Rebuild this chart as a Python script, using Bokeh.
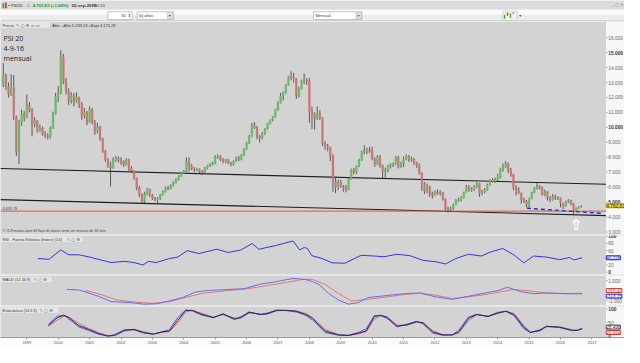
import numpy as np
import pandas as pd
from bokeh.plotting import figure
from bokeh.models import Range1d, Label, BoxAnnotation
from bokeh.layouts import column
from bokeh.embed import file_html
from bokeh.resources import INLINE

# ------------------------------------------------------------------ data
start_month = "1998-04"
open_first = 12850
close_ = [
    13450, 12750, 12200, 12650, 10700, 8350, 10300, 10900, 10650,                    # 1998
    11500, 11150, 10200, 10450, 9800, 9950, 9550, 9450, 9350, 9950, 10900, 12050,     # 1999
    12250, 14700, 13050, 12450, 11750, 12150, 11750, 12000, 11550, 10800, 11000, 10350,  # 2000
    11200, 10350, 9750, 10050, 9250, 8400, 7850, 7450, 7300, 7850, 7950, 7800,       # 2001
    7700, 7500, 7850, 7250, 7100, 6600, 5950, 5500, 5050, 5550, 5850, 5450,           # 2002
    5250, 5150, 5200, 5500, 5700, 5950, 5900, 6100, 6300, 6500, 6720, 6930,           # 2003
    7050, 7700, 7450, 7250, 7150, 7200, 7050, 7000, 7300, 7450, 7550, 7600,           # 2004
    8000, 8050, 7850, 7700, 7850, 7650, 7500, 7750, 8000, 7850, 8150, 8550,           # 2005
    8950, 9400, 10200, 10000, 9400, 9300, 9600, 9900, 10250, 10500, 10700, 11200,     # 2006
    11650, 12100, 12300, 12850, 13400, 13350, 13250, 12150, 12600, 13100, 13150, 13100,  # 2007
    11100, 10950, 10600, 10950, 10650, 8900, 8750, 8650, 8100, 6400, 6000, 6350,      # 2008
    6050, 5900, 5850, 6550, 7150, 7000, 7400, 7800, 8400, 8350, 8500, 8450,           # 2009
    7900, 7550, 8050, 7450, 7100, 7100, 7400, 7500, 7550, 8000, 7350, 7600,           # 2010
    7900, 8050, 7850, 7900, 7650, 7450, 6950, 6250, 5750, 6050, 5550, 5500,           # 2011
    5650, 5600, 5650, 5200, 4550, 4500, 4600, 4850, 5100, 5150, 5300, 5650,           # 2012
    6000, 5800, 5900, 6050, 6250, 5600, 5700, 5800, 6150, 6450, 6400, 6550,           # 2013
    6700, 7250, 7400, 7600, 7100, 6850, 5950, 5850, 5600, 5200, 5050, 4800,           # 2014
    5250, 5650, 5900, 6050, 6000, 5500, 5700, 5300, 5150, 5400, 5250, 5300,           # 2015
    4950, 4750, 5050, 5150, 4900, 4450, 4600, 4680, 4763,                             # 2016
]
high_ = [
    14300, 13600, 13000, 13550, 13500, 10800, 10500, 11200, 11100,
    12200, 11700, 11300, 10700, 10500, 10200, 10050, 9750, 9600, 10050, 11050, 12300,
    12750, 15150, 14900, 13300, 12600, 12350, 12300, 12350, 12050, 11700, 11300, 11100,
    11400, 11300, 10500, 10300, 10100, 9300, 8500, 7950, 7700, 8000, 8100, 8050,
    8000, 7800, 7950, 7900, 7400, 7150, 6650, 6100, 5600, 5700, 5950, 5900,
    5550, 5350, 5350, 5550, 5800, 6050, 6100, 6200, 6400, 6600, 6800, 7000,
    7150, 8000, 8000, 7550, 7350, 7300, 7250, 7150, 7350, 7500, 7600, 7700,
    8150, 8200, 8150, 7950, 7900, 7900, 7700, 7800, 8050, 8100, 8200, 8600,
    9050, 9500, 10300, 10350, 10100, 9500, 9700, 9950, 10300, 10550, 10750, 11250,
    11750, 12300, 12400, 12900, 13450, 13750, 13650, 13300, 12700, 13200, 13600, 13300,
    13300, 11400, 11000, 11400, 11150, 10700, 9100, 8900, 8700, 8200, 6700, 6500,
    6500, 6150, 6150, 6650, 7250, 7300, 7450, 7900, 8450, 8800, 8650, 8700,
    8700, 8000, 8150, 8150, 7500, 7300, 7500, 7600, 7650, 8100, 8100, 7700,
    8050, 8200, 8150, 8050, 7950, 7700, 7600, 7000, 6350, 6250, 6100, 5700,
    5800, 5850, 5800, 5700, 5250, 4700, 4700, 4900, 5200, 5300, 5400, 5700,
    6150, 6150, 6000, 6150, 6350, 6300, 5850, 5950, 6250, 6550, 6600, 6650,
    6900, 7300, 7600, 7750, 7650, 7300, 6900, 6150, 6000, 5650, 5300, 5150,
    5300, 5700, 6000, 6300, 6150, 6050, 5850, 5750, 5400, 5550, 5500, 5400,
    5240, 4950, 5100, 5200, 5150, 4950, 4650, 4750, 4800,
]
low_ = [
    12700, 12500, 12000, 12100, 10500, 8100, 7550, 10100, 10400,
    10600, 11000, 9400, 10000, 9650, 9700, 9450, 9300, 9200, 9250, 9900, 10850,
    11700, 12200, 12900, 12200, 11500, 11600, 11400, 11650, 11300, 10500, 10600, 10150,
    10300, 10200, 9500, 9600, 9100, 8300, 7700, 7300, 6050, 7250, 7700, 7650,
    7500, 7350, 7450, 7100, 6950, 6500, 5800, 5350, 4900, 4950, 5450, 5350,
    5150, 5050, 4950, 5150, 5450, 5650, 5800, 5850, 6050, 6250, 6450, 6700,
    6900, 7000, 7050, 7150, 7000, 7050, 6950, 6800, 6950, 7200, 7350, 7450,
    7550, 7900, 7750, 7600, 7600, 7550, 7400, 7450, 7700, 7750, 7800, 8100,
    8500, 8900, 9350, 9900, 9200, 9000, 9200, 9500, 9850, 10200, 10400, 10650,
    11100, 11600, 11800, 12250, 12800, 13150, 13000, 11900, 12000, 12550, 12900, 12850,
    10300, 9900, 9850, 10500, 10500, 8750, 8500, 8400, 7750, 5700, 5600, 5800,
    5950, 5700, 5650, 5800, 6500, 6850, 6900, 7350, 7750, 8200, 8200, 8300,
    7800, 7350, 7500, 7300, 6600, 6650, 7000, 7250, 7350, 7500, 7250, 7300,
    7350, 7800, 7700, 7700, 7500, 7300, 6850, 5750, 5550, 5600, 5350, 5250,
    5400, 5500, 5450, 5100, 4450, 4300, 4350, 4500, 4800, 5000, 5050, 5250,
    5650, 5700, 5700, 5750, 5950, 5350, 5450, 5600, 5750, 6100, 6300, 6300,
    6350, 6600, 7050, 7300, 6950, 6700, 5800, 5450, 5550, 4900, 4950, 4650,
    4650, 5200, 5600, 5850, 5850, 5450, 5400, 5100, 5000, 5100, 5150, 5150,
    4650, 4550, 4700, 4950, 4800, 4175, 4400, 4550, 4650,
]

rsi_t = [1999.35, 1999.71, 2000.08, 2000.34, 2000.65, 2001.01, 2001.27, 2001.68, 2002.10, 2002.41,
         2002.70, 2002.87, 2003.13, 2003.54, 2003.80, 2004.11, 2004.48, 2005.05, 2005.41, 2005.82,
         2006.18, 2006.39, 2006.96, 2007.17, 2007.48, 2007.69, 2007.84, 2007.94, 2008.08, 2008.41,
         2008.72, 2009.13, 2009.65, 2010.07, 2010.38, 2010.79, 2011.20, 2011.62, 2012.03, 2012.34,
         2012.66, 2013.07, 2013.48, 2013.79, 2014.16, 2014.52, 2014.83, 2015.14, 2015.56, 2015.97,
         2016.28, 2016.43, 2016.69]
rsi_v = [38, 36, 62, 48.5, 48.5, 42, 36, 27, 30, 27,
         20, 30, 27, 38, 42, 60, 52, 64, 55, 62,
         80, 64, 75, 80, 87, 62, 69, 66, 46, 38,
         26, 25, 47, 45, 43, 50, 46, 33, 29, 23,
         38, 50, 45, 57, 66, 48, 26, 45, 42, 35,
         41, 34, 40.226]

macd_t = [2000.28, 2000.65, 2001.27, 2001.68, 2002.30, 2002.72, 2003.13, 2003.54, 2003.96, 2004.37,
          2004.79, 2005.41, 2005.93, 2006.44, 2006.96, 2007.48, 2007.89, 2008.10, 2008.31, 2008.62,
          2008.93, 2009.24, 2009.55, 2009.86, 2010.38, 2011.00, 2011.52, 2012.03, 2012.55, 2013.07,
          2013.59, 2014.00, 2014.31, 2014.72, 2015.14, 2015.55, 2016.17, 2016.69]
macd_v = [114, 76, -550, -1095, -1190, -1350, -1310, -1030, -690, -143,
          19, 114, 190, 650, 900, 1220, 1100, 900, 600, -300,
          -940, -1350, -1200, -690, -520, -305, -240, -620, -870, -560,
          -240, 0, 333, -95, -305, -240, -305, -318.35]
signal_t = [2000.85, 2001.27, 2001.89, 2002.51, 2003.03, 2003.54, 2004.16, 2004.58, 2005.41, 2006.03,
            2006.65, 2007.27, 2007.79, 2008.10, 2008.51, 2008.93, 2009.34, 2009.86, 2010.48, 2011.00,
            2011.52, 2012.03, 2012.55, 2013.07, 2013.59, 2014.10, 2014.52, 2014.93, 2015.55, 2016.17,
            2016.69]
signal_v = [19, -300, -940, -1160, -1260, -1100, -600, -270, 0, 190,
            500, 820, 1120, 1120, 600, -300, -1030, -870, -620, -400,
            -240, -460, -780, -620, -400, -110, 114, 0, -240, -305,
            -265.42]

stoch_t = [1999.69, 1999.97, 2000.18, 2000.34, 2000.65, 2000.96, 2001.27, 2001.58, 2001.79, 2002.10,
           2002.41, 2002.72, 2003.03, 2003.34, 2003.54, 2003.80, 2004.06, 2004.27, 2004.58, 2004.94,
           2005.25, 2005.61, 2005.82, 2006.08, 2006.44, 2006.65, 2006.96, 2007.27, 2007.58, 2007.89,
           2008.10, 2008.51, 2008.93, 2009.24, 2009.55, 2009.81, 2010.07, 2010.27, 2010.48, 2010.79,
           2011.10, 2011.41, 2011.62, 2011.93, 2012.24, 2012.55, 2012.76, 2013.07, 2013.33, 2013.69,
           2014.00, 2014.26, 2014.52, 2014.83, 2015.04, 2015.35, 2015.55, 2015.97, 2016.38, 2016.54,
           2016.69]
stoch_fast = [45, 74, 78, 64, 35, 22, 8, 1, 6, 24, 24, 12, 8, 18, 24, 68, 97, 94, 78, 70,
              82, 62, 73, 90, 80, 86, 97, 95, 90, 77, 60, 14, 4, 4, 14, 28, 77, 76, 66, 35,
              45, 55, 46, 12, 4, 6, 22, 72, 81, 74, 89, 92, 76, 28, 14, 25, 37, 32, 21, 23, 29]
stoch_k = [40, 69, 78, 69, 40, 26, 11, 1, 3, 22, 26, 14, 8, 17, 19, 58, 96, 96, 81, 69,
           83, 64, 69, 89, 81, 83, 96, 96, 93, 81, 66, 19, 5, 3, 11, 20, 73, 78, 70, 37,
           42, 54, 50, 16, 5, 5, 16, 66, 81, 73, 86, 93, 81, 34, 14, 22, 37, 34, 22, 22, 28.496]
stoch_d = [38, 60, 74, 72, 48, 30, 14, 3, 3, 18, 25, 17, 9, 15, 18, 48, 90, 96, 85, 71,
           80, 68, 68, 86, 83, 82, 94, 96, 94, 84, 70, 25, 7, 3, 9, 17, 63, 77, 72, 42,
           41, 52, 51, 21, 7, 5, 13, 58, 79, 75, 84, 92, 84, 40, 17, 20, 35, 35, 24, 22, 26.932]

trend_upper_t = [1998.16, 2017.45]
trend_upper_p = [7256, 6195]
trend_lower_t = [1998.16, 2017.45]
trend_lower_p = [5173, 4105]
support_level = 4403.79
dash_support_t = [2014.93, 2017.32]
dash_support_p = [4597, 4252]

price_ticks = [3000, 4000, 5000, 6000, 7000, 8000, 9000, 10000, 11000, 12000, 13000, 14000, 15000, 16000]
price_bold = [5000, 10000, 15000]
rsi_ticks = [0, 20, 40, 60, 80, 100]
rsi_bold = [0, 100]
macd_ticks = [-1000, 1000]
stoch_ticks = [0, 50, 100]
stoch_bold = [0, 100]
year_ticks = [1999, 2000, 2001, 2002, 2003, 2004, 2005, 2006, 2007, 2008,
              2009, 2010, 2011, 2012, 2013, 2014, 2015, 2016, 2017]

last_price = 4762.83
last_change = 1.84
year_high = 5239.53
year_low = 4175.28

# ------------------------------------------------------------------ layout helpers
W = 624
SX = W / 640.0
SY = 347 / 363.0
FONT = "Liberation Sans"
PANEL_BG = "#d3d3d3"
STRIP_BG = "#f7f7f7"
AXIS_X0 = 621.0          # reference x where the right value strip begins


def es(v, dec):
    s = f"{v:,.{dec}f}"
    return s.replace(",", "X").replace(".", ",").replace("X", ".")


def tx(xr):           # reference pixel x -> decimal year
    return 1999 + (xr - 27) / 32.2


def py(yr):           # reference pixel y -> price
    return 5000 + (211 - yr) * 63.9


def ry(yr):
    return (284.2 - yr) / 0.375


def my(yr):
    return (303.5 - yr) / 0.0105


def sy_(yr):
    return (351.3 - yr) / 0.283


x_range = Range1d(tx(0), tx(640))


def txt(fig, x, y, text, size="4px", color="#333333", style="normal", font=FONT,
        align="left", baseline="middle", bg=None, border=None):
    lab = Label(x=x, y=y, text=text, text_font=font, text_font_size=size,
                text_color=color, text_font_style=style, text_align=align,
                text_baseline=baseline)
    if bg is not None:
        lab.background_fill_color = bg
    if border is not None:
        lab.border_line_color = border
    fig.add_layout(lab)


def panel(height, yrng, border_bottom, xaxis=False):
    f = figure(width=W, height=height, x_range=x_range, y_range=Range1d(*yrng),
               output_backend="svg", toolbar_location=None,
               x_axis_location="below" if xaxis else None, y_axis_location=None,
               min_border_left=0, min_border_right=0, min_border_top=0,
               min_border_bottom=border_bottom)
    f.background_fill_color = PANEL_BG
    f.border_fill_color = "#fbfbfb"
    f.outline_line_color = None
    f.grid.visible = False
    return f


def value_strip(fig, yrng, ticks, labels, bold=()):
    lo_, hi_ = yrng
    fig.quad(left=[tx(AXIS_X0)], right=[tx(641)], bottom=[lo_], top=[hi_],
             fill_color=STRIP_BG, line_color=None)
    fig.segment(x0=[tx(AXIS_X0)] * len(ticks), x1=[tx(AXIS_X0 + 1.8)] * len(ticks),
                y0=ticks, y1=ticks, line_color="#8a8a8a", line_width=0.6)
    for t, lab in zip(ticks, labels):
        if lab:
            txt(fig, tx(AXIS_X0 + 2.4), t, lab, size="4.8px",
                color="#333333" if t in bold else "#666666",
                style="bold" if t in bold else "normal")


def header_box(fig, yconv, x0, x1, y0, y1):
    fig.add_layout(BoxAnnotation(left=tx(x0), right=tx(x1), top=yconv(y0), bottom=yconv(y1),
                                 fill_color="#e6e6e6", fill_alpha=1, line_color="#a8a8a8",
                                 line_width=0.6))


# ------------------------------------------------------------------ header (title bar + toolbar)
hdr = figure(width=W, height=21, x_range=Range1d(0, 640), y_range=Range1d(22, 0),
             output_backend="svg", toolbar_location=None, x_axis_location=None,
             y_axis_location=None, min_border=0)
hdr.outline_line_color = None
hdr.grid.visible = False
hdr.background_fill_color = "#f3f3f3"
hdr.quad(left=[0], right=[640], top=[0], bottom=[9.6], fill_color="#dcdcdc", line_color=None)
hdr.quad(left=[0], right=[640], top=[9.6], bottom=[15], fill_color="#fbfbfb", line_color=None)
hdr.quad(left=[0], right=[640], top=[15], bottom=[22], fill_color="#ececec", line_color=None)
hdr.segment(x0=[0], y0=[21.6], x1=[640], y1=[21.6], line_color="#a0a0a0", line_width=0.8)
hdr.quad(left=[2, 4.6], right=[3.8, 6.4], top=[3, 2], bottom=[8, 8],
         fill_color=["#3aa63a", "#d04040"], line_color=None)
txt(hdr, 8, 5, "▪ PSI20", size="4.2px", color="#333333")
txt(hdr, 27, 5, "▫", size="4.5px", color="#555555", font="DejaVu Sans")
txt(hdr, 33, 5, f"{es(last_price, 2)} (+{es(last_change, 2)}%)", size="4.3px",
    color="#2b962b", style="bold")
txt(hdr, 73, 5, "02-sep-2016", size="4.3px", color="#333333", style="bold")
txt(hdr, 94, 5, "PSI 20", size="4.2px", color="#444444")
txt(hdr, 639, 4.6, "_ ▢ ✕", size="4px", color="#777777", font="DejaVu Sans", align="right")
hdr.quad(left=[110, 140, 321], right=[135, 177.5, 370.5], top=[11.8, 11.8, 11.8],
         bottom=[20, 20, 20], fill_color="white", line_color="#a0a0a0", line_width=0.6)
txt(hdr, 128.5, 16, "30", size="4px", align="right")
txt(hdr, 132.3, 16, "⬍", size="4px", color="#555555", font="DejaVu Sans", align="center")
txt(hdr, 142, 16, "[x] años", size="4px")
hdr.quad(left=[171, 364.5], right=[176.5, 370], top=[12.8, 12.8], bottom=[19, 19],
         fill_color="#e4e4e4", line_color="#b0b0b0", line_width=0.5)
txt(hdr, 173.7, 16, "▾", size="4px", color="#444444", font="DejaVu Sans", align="center")
txt(hdr, 367.2, 16, "▾", size="4px", color="#444444", font="DejaVu Sans", align="center")
txt(hdr, 323, 16, "Mensual", size="4px")
hdr.quad(left=[515], right=[530], top=[11], bottom=[21], fill_color="#eef3ea",
         line_color="#b8b8b8", line_width=0.5)
hdr.segment(x0=[517, 520, 523, 526], y0=[19, 16, 18, 14], x1=[517, 520, 523, 526],
            y1=[15, 12.5, 13.5, 12.5], line_color=["#3aa63a", "#d04040", "#3aa63a", "#d04040"],
            line_width=1.4)
txt(hdr, 533, 16, "▾", size="4px", color="#444444", font="DejaVu Sans", align="center")

# ------------------------------------------------------------------ price panel
p_rng = (py(234.0 / SY), py(21.0 / SY))
price = panel(214, p_rng, 1)

dates = pd.date_range(start_month, periods=len(close_), freq="MS")
t_c = np.asarray(dates.year + (dates.month - 1) / 12.0, dtype=float)
c = np.asarray(close_, dtype=float)
o = np.concatenate([[open_first], c[:-1]])
hi = np.maximum(np.asarray(high_, dtype=float), np.maximum(o, c))
lo = np.minimum(np.asarray(low_, dtype=float), np.minimum(o, c))
up = c >= o
body_top = np.maximum(o, c)
body_bot = np.minimum(o, c)
thin = (body_top - body_bot) < 60
body_top = np.where(thin, body_top + 30, body_top)
body_bot = np.where(thin, body_bot - 30, body_bot)
fill = np.where(up, "#66bf66", "#d07575")

price.line(trend_upper_t, trend_upper_p, line_color="#1e1e1e", line_width=1.1)
price.line(trend_lower_t, trend_lower_p, line_color="#1e1e1e", line_width=1.1)
price.line([x_range.start, tx(AXIS_X0)], [support_level, support_level],
           line_color="#e05050", line_width=1)
price.segment(x0=t_c, y0=hi, x1=t_c, y1=lo, line_color="#3a3a3a", line_width=0.8)
price.vbar(x=t_c, width=0.056, top=body_top, bottom=body_bot, fill_color=fill,
           line_color=fill, line_width=0.4)
price.line(dash_support_t, dash_support_p, line_color="#2a2ad0", line_width=1.4,
           line_dash="4 3")
value_strip(price, p_rng, price_ticks, [es(t, 0) for t in price_ticks], price_bold)
txt(price, tx(AXIS_X0 + 0.3), last_price, es(last_price, 2), size="4.8px", color="#333333",
    bg="#f2d21c", border="#b09a10")

header_box(price, py, 0, 51, 22.2, 29.4)
txt(price, tx(2), py(25.8), "Precio", size="4px", color="#333333")
txt(price, tx(16), py(25.8), "✎ ▢ ⚙ ▭ ▭", size="4px", color="#444444", font="DejaVu Sans")
txt(price, tx(53), py(25.8), f"Año: +Alto {es(year_high, 2)} +Bajo {es(year_low, 2)}",
    size="4px", color="#333333")
txt(price, tx(3), py(40), "PSI 20", size="7px", color="#1a1a1a", font="Open Sans")
txt(price, tx(3), py(50.5), "4-9-16", size="7px", color="#1a1a1a", font="Open Sans")
txt(price, tx(3), py(61), "mensual", size="7px", color="#1a1a1a", font="Open Sans")
txt(price, tx(2), py(217.6), es(support_level, 2), size="3.8px", color="#444444")
txt(price, tx(2), py(241.3), "© IT-Finance.com  El flujo de datos tiene un retraso de 15 min",
    size="3.8px", color="#444444", style="italic")
txt(price, tx(590.5), py(234.5), "⇧", size="15px", color="white", font="DejaVu Sans",
    align="center", style="bold")

# ------------------------------------------------------------------ RSI panel
r_rng = (ry(274.0 / SY), ry(235.0 / SY))
rsi = panel(40, r_rng, 1)
rsi.line(rsi_t, rsi_v, line_color="#3535e8", line_width=1)
value_strip(rsi, r_rng, rsi_ticks, [str(t) for t in rsi_ticks], rsi_bold)
txt(rsi, tx(AXIS_X0 + 0.3), rsi_v[-1], es(rsi_v[-1], 3), size="4.6px", color="#2a2ad0",
    bg="#eef0ff", border="#2a2ad0")
header_box(rsi, ry, 0, 85, 246.6, 253.2)
txt(rsi, tx(2), ry(250), "RSI - Fuerza Relativa (Índice) (14)", size="3.9px", color="#333333")
txt(rsi, tx(68), ry(250), "✎ ▢ ⚙", size="4px", color="#444444", font="DejaVu Sans")

# ------------------------------------------------------------------ MACD panel
m_rng = (my(305.0 / SY), my(275.0 / SY))
macd = panel(31, m_rng, 1)
macd.line(signal_t, signal_v, line_color="#e07878", line_width=1)
macd.line(macd_t, macd_v, line_color="#6a6af5", line_width=1)
value_strip(macd, m_rng, macd_ticks, [es(t, 0) for t in macd_ticks])
txt(macd, tx(AXIS_X0 + 0.3), my(303.4), es(signal_v[-1], 2), size="4.6px", color="#d04040",
    bg="white", border="#d04040")
txt(macd, tx(AXIS_X0 + 0.3), my(309.3), es(macd_v[-1], 2), size="4.6px", color="#2a2ad0",
    bg="white", border="#2a2ad0")
header_box(macd, my, 0, 53, 288.6, 295.2)
txt(macd, tx(2), my(292), "MACD (12 26 9)", size="3.9px", color="#333333")
txt(macd, tx(34), my(292), "✎ ▢ ⚙", size="4px", color="#444444", font="DejaVu Sans")

# ------------------------------------------------------------------ Stochastic panel
s_rng = (sy_(337.0 / SY), sy_(306.0 / SY))
sto = panel(41, s_rng, 10, xaxis=True)
sto.line(stoch_t, stoch_d, line_color="#e07070", line_width=1)
sto.line(stoch_t, stoch_fast, line_color="#5858f0", line_width=1)
sto.line(stoch_t, stoch_k, line_color="#2a2a50", line_width=1)
value_strip(sto, s_rng, stoch_ticks, [str(t) for t in stoch_ticks], stoch_bold)
txt(sto, tx(AXIS_X0 + 0.3), sy_(341.7), es(stoch_k[-1], 3), size="4.6px", color="#333333",
    bg="white", border="#555555")
txt(sto, tx(AXIS_X0 + 0.3), sy_(347.3), es(stoch_d[-1], 3), size="4.6px", color="#d04040",
    bg="#fff0f0", border="#d04040")
header_box(sto, sy_, 0, 60, 320.6, 327.2)
txt(sto, tx(2), sy_(324), "Estocástico (14 6 3)", size="3.9px", color="#333333")
txt(sto, tx(40), sy_(324), "✎ ▢ ⚙", size="4px", color="#444444", font="DejaVu Sans")
xa = sto.xaxis[0]
xa.ticker = year_ticks
xa.major_label_overrides = {y: str(y) for y in year_ticks}
xa.major_label_text_font = FONT
xa.major_label_text_font_size = "4px"
xa.major_label_text_color = "#555555"
xa.major_tick_out = 2
xa.major_tick_in = 0
xa.minor_tick_out = 0
xa.minor_tick_in = 0
xa.major_tick_line_color = "#999999"
xa.axis_line_color = "#9a9a9a"
xa.major_label_standoff = 1

layout = column(hdr, price, rsi, macd, sto, spacing=0)
open("out.html", "w").write(file_html(layout, INLINE))
